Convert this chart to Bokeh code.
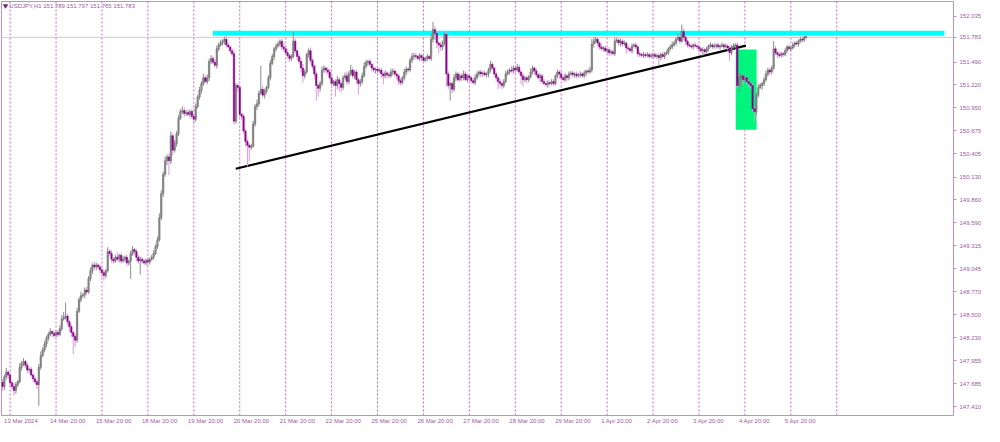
from bokeh.plotting import figure
from bokeh.models import Span, Label, FixedTicker, PrintfTickFormatter
from bokeh.embed import file_html
from bokeh.resources import INLINE

# ---------------- data (USDJPY H1 closes) ----------------
first_open = 147.700
c_13mar = [147.650, 147.765, 147.822, 147.787, 147.696, 147.650, 147.605, 147.673, 147.708, 147.879, 147.924, 147.947,
           147.902, 147.845, 147.856, 147.787, 147.742, 147.708, 147.673, 147.879, 148.016, 148.085, 148.153, 148.221]
c_14mar = [148.267, 148.302, 148.278, 148.256, 148.290, 148.267, 148.336, 148.450, 148.473, 148.484, 148.416, 148.359,
           148.290, 148.244, 148.199, 148.541, 148.678, 148.724, 148.735, 148.792, 148.769, 148.929, 149.021, 149.089]
c_15mar = [149.066, 149.089, 149.066, 149.032, 148.998, 148.964, 149.021, 149.249, 149.226, 149.158, 149.135, 149.181,
           149.158, 149.203, 149.135, 149.158, 149.181, 149.112, 149.135, 149.226, 149.272, 149.249, 149.181, 149.135]
c_18mar = [149.158, 149.135, 149.112, 149.146, 149.124, 149.158, 149.181, 149.226, 149.306, 149.386, 149.649, 149.934,
           150.163, 150.322, 150.368, 150.322, 150.619, 150.448, 150.528, 150.642, 150.825, 150.905, 150.916, 150.882]
c_19mar = [150.893, 150.871, 150.905, 150.848, 150.813, 150.962, 151.076, 151.156, 151.236, 151.304, 151.259, 151.304,
           151.499, 151.533, 151.487, 151.453, 151.647, 151.693, 151.716, 151.738, 151.761, 151.693, 151.670, 151.624]
c_20mar = [151.590, 150.791, 151.213, 151.190, 150.871, 150.848, 150.676, 150.551, 150.505, 150.482, 150.494, 150.756,
           150.962, 150.996, 151.122, 151.168, 151.099, 151.145, 151.190, 151.304, 151.476, 151.556, 151.647, 151.681]
c_21mar = [151.704, 151.738, 151.670, 151.647, 151.601, 151.567, 151.533, 151.556, 151.738, 151.624, 151.556, 151.499,
           151.419, 151.327, 151.373, 151.579, 151.624, 151.510, 151.442, 151.350, 151.213, 151.179, 151.236, 151.396]
c_22mar = [151.419, 151.396, 151.373, 151.304, 151.236, 151.259, 151.213, 151.282, 151.236, 151.190, 151.304, 151.327,
           151.259, 151.350, 151.396, 151.327, 151.373, 151.282, 151.236, 151.259, 151.327, 151.442, 151.487, 151.499]
c_25mar = [151.464, 151.419, 151.396, 151.407, 151.384, 151.396, 151.350, 151.327, 151.362, 151.339, 151.327, 151.373,
           151.384, 151.350, 151.327, 151.270, 151.247, 151.304, 151.373, 151.407, 151.396, 151.510, 151.556, 151.567]
c_26mar = [151.556, 151.533, 151.567, 151.544, 151.510, 151.533, 151.556, 151.533, 151.761, 151.875, 151.830, 151.716,
           151.693, 151.670, 151.716, 151.818, 151.350, 151.213, 151.236, 151.168, 151.304, 151.350, 151.282, 151.327]
c_27mar = [151.304, 151.350, 151.282, 151.327, 151.304, 151.270, 151.247, 151.304, 151.350, 151.373, 151.350, 151.362,
           151.339, 151.350, 151.396, 151.464, 151.419, 151.350, 151.304, 151.259, 151.236, 151.213, 151.259, 151.350]
c_28mar = [151.373, 151.396, 151.384, 151.419, 151.396, 151.430, 151.373, 151.327, 151.282, 151.304, 151.282, 151.316,
           151.373, 151.419, 151.384, 151.339, 151.304, 151.327, 151.259, 151.236, 151.225, 151.247, 151.236, 151.259]
c_29mar = [151.236, 151.327, 151.373, 151.350, 151.304, 151.282, 151.327, 151.304, 151.350, 151.362, 151.339, 151.350,
           151.327, 151.339, 151.350, 151.327, 151.362, 151.384, 151.373, 151.396, 151.704, 151.738, 151.761, 151.716]
c_01apr = [151.670, 151.647, 151.658, 151.624, 151.636, 151.601, 151.613, 151.590, 151.738, 151.750, 151.716, 151.738,
           151.704, 151.716, 151.658, 151.647, 151.624, 151.681, 151.693, 151.670, 151.590, 151.579, 151.567, 151.579]
c_02apr = [151.567, 151.579, 151.556, 151.567, 151.579, 151.556, 151.567, 151.544, 151.579, 151.556, 151.590, 151.601,
           151.647, 151.670, 151.693, 151.716, 151.761, 151.784, 151.738, 151.853, 151.784, 151.738, 151.693, 151.681]
c_03apr = [151.670, 151.693, 151.681, 151.670, 151.647, 151.624, 151.636, 151.613, 151.647, 151.681, 151.693, 151.670,
           151.681, 151.693, 151.670, 151.681, 151.693, 151.670, 151.681, 151.658, 151.601, 151.670, 151.681, 151.693]
c_04apr = [151.213, 151.304, 151.327, 151.282, 151.304, 151.259, 151.236, 151.213, 150.939, 150.905, 151.099, 151.190,
           151.213, 151.236, 151.282, 151.350, 151.396, 151.373, 151.419, 151.647, 151.601, 151.579, 151.567, 151.590]
c_05apr = [151.579, 151.624, 151.670, 151.647, 151.658, 151.693, 151.716, 151.704, 151.738, 151.761, 151.750, 151.789,
           151.783]

# upper / lower shadow lengths in pips (0.01 JPY)
up_wick = [4, 3, 5, 2, 3, 2, 4, 3, 2, 5, 3, 4, 2, 3, 2, 3, 2, 3, 2, 4, 5, 3, 4, 3,
           3, 4, 2, 3, 2, 3, 4, 5, 6, 16, 3, 2, 3, 2, 3, 4, 3, 5, 2, 3, 4, 3, 4, 2,
           4, 3, 2, 3, 2, 3, 2, 5, 3, 4, 2, 3, 6, 2, 3, 4, 2, 3, 2, 3, 4, 2, 3, 3,
           3, 2, 3, 2, 3, 2, 3, 4, 3, 4, 5, 4, 3, 5, 3, 4, 5, 3, 4, 3, 4, 3, 5, 4,
           3, 4, 2, 3, 2, 4, 3, 4, 3, 5, 3, 4, 3, 4, 3, 3, 4, 3, 4, 2, 3, 4, 3, 2,
           3, 4, 3, 2, 3, 2, 3, 2, 3, 2, 3, 4, 3, 5, 3, 28, 4, 3, 2, 3, 4, 3, 2, 3,
           3, 2, 3, 4, 2, 3, 2, 3, 11, 3, 2, 3, 4, 5, 3, 2, 3, 4, 3, 2, 3, 2, 3, 4,
           3, 2, 3, 4, 3, 2, 3, 4, 3, 2, 3, 4, 5, 3, 6, 3, 2, 3, 2, 3, 4, 5, 3, 2,
           3, 2, 3, 2, 3, 2, 3, 2, 3, 2, 3, 4, 3, 2, 3, 2, 3, 2, 4, 3, 2, 3, 4, 3,
           3, 2, 3, 2, 3, 2, 3, 2, 6, 9, 4, 3, 2, 4, 3, 3, 4, 3, 2, 3, 4, 3, 2, 3,
           3, 4, 3, 2, 3, 2, 3, 4, 3, 2, 3, 2, 3, 2, 3, 4, 3, 2, 3, 2, 3, 2, 3, 4,
           3, 2, 5, 3, 2, 4, 3, 2, 3, 2, 3, 2, 4, 3, 2, 3, 2, 3, 2, 3, 2, 3, 2, 3,
           3, 2, 3, 2, 3, 2, 3, 2, 3, 2, 3, 2, 3, 2, 3, 2, 3, 2, 3, 4, 6, 4, 3, 2,
           2, 3, 2, 3, 2, 3, 2, 3, 4, 3, 2, 3, 2, 3, 2, 3, 2, 3, 2, 3, 2, 3, 2, 3,
           2, 3, 2, 3, 2, 3, 2, 3, 2, 3, 2, 3, 2, 3, 4, 3, 2, 4, 3, 8, 4, 3, 2, 3,
           3, 2, 3, 2, 3, 2, 3, 2, 3, 2, 3, 2, 3, 2, 3, 2, 3, 2, 3, 2, 3, 2, 3, 2,
           3, 4, 3, 2, 3, 2, 3, 2, 3, 2, 3, 4, 3, 2, 3, 4, 3, 2, 3, 9, 3, 2, 3, 2,
           2, 3, 2, 3, 2, 3, 2, 3, 2, 3, 2, 1, 0.8]
lo_wick = [5, 4, 3, 5, 4, 3, 6, 4, 3, 2, 4, 3, 3, 4, 3, 2, 4, 3, 5, 25, 3, 2, 3, 4,
           3, 2, 4, 3, 2, 3, 2, 3, 2, 3, 4, 6, 5, 21, 8, 3, 2, 3, 2, 4, 3, 2, 3, 4,
           3, 4, 3, 4, 5, 6, 3, 2, 3, 4, 3, 2, 3, 4, 3, 2, 3, 4, 3, 21, 3, 4, 5, 3,
           16, 3, 2, 3, 4, 3, 2, 3, 2, 3, 2, 3, 4, 3, 5, 17, 4, 6, 3, 4, 3, 2, 3, 4,
           3, 2, 4, 3, 6, 3, 2, 3, 4, 3, 2, 3, 4, 3, 2, 3, 4, 3, 2, 3, 4, 3, 2, 3,
           3, 4, 3, 5, 3, 4, 3, 6, 25, 17, 3, 2, 3, 4, 3, 2, 3, 4, 3, 2, 3, 2, 4, 3,
           2, 3, 4, 3, 2, 3, 4, 3, 2, 3, 4, 3, 5, 8, 3, 2, 4, 3, 4, 6, 18, 10, 4, 3,
           3, 4, 3, 2, 5, 3, 13, 4, 9, 6, 3, 2, 4, 3, 2, 3, 4, 5, 13, 4, 3, 2, 3, 4,
           3, 4, 3, 4, 3, 2, 5, 10, 3, 4, 3, 2, 4, 3, 4, 5, 3, 2, 3, 4, 3, 2, 3, 4,
           3, 2, 3, 4, 3, 2, 3, 2, 3, 4, 8, 6, 10, 5, 4, 3, 15, 4, 18, 5, 3, 4, 3, 2,
           4, 3, 2, 3, 4, 3, 2, 3, 2, 3, 4, 3, 2, 3, 4, 3, 2, 3, 4, 9, 5, 4, 3, 2,
           2, 3, 2, 3, 4, 2, 3, 10, 8, 3, 4, 3, 2, 3, 4, 3, 2, 5, 3, 2, 3, 4, 3, 2,
           3, 2, 3, 6, 3, 2, 3, 4, 3, 2, 3, 4, 3, 2, 3, 2, 3, 4, 3, 2, 3, 4, 3, 4,
           3, 2, 3, 2, 3, 4, 3, 2, 3, 2, 3, 4, 3, 2, 7, 3, 2, 3, 2, 3, 4, 3, 2, 3,
           3, 2, 3, 2, 3, 2, 3, 9, 3, 2, 3, 2, 3, 2, 3, 2, 3, 2, 3, 2, 3, 4, 3, 2,
           2, 3, 2, 3, 4, 3, 6, 3, 2, 3, 2, 3, 2, 3, 2, 3, 2, 3, 2, 3, 10, 3, 2, 3,
           3, 8, 10, 6, 4, 3, 5, 4, 3, 12, 4, 3, 2, 5, 3, 2, 3, 4, 3, 2, 3, 4, 3, 2,
           3, 2, 3, 2, 3, 2, 3, 2, 3, 2, 3, 2, 1.8]

# x-axis labels (every 24 bars) and right-axis price labels
x_labels = ["13 Mar 2024", "14 Mar 20:00", "15 Mar 20:00", "18 Mar 20:00", "19 Mar 20:00", "20 Mar 20:00",
            "21 Mar 20:00", "22 Mar 20:00", "25 Mar 20:00", "26 Mar 20:00", "27 Mar 20:00", "28 Mar 20:00",
            "29 Mar 20:00", "1 Apr 20:00", "2 Apr 20:00", "3 Apr 20:00", "4 Apr 20:00", "5 Apr 20:00"]
y_ticks = [152.035, 151.490, 151.220, 150.950, 150.675, 150.405, 150.130, 149.860, 149.590,
           149.315, 149.045, 148.770, 148.500, 148.230, 147.955, 147.685, 147.410]
last_price = 151.783
title_text = "USDJPY,H1  151.789 151.797 151.765 151.783"

# drawn objects
resistance_x = [110.0, 492.3]
resistance_y = [151.830, 151.830]
trend_x = [121.9, 388.5]
trend_y = [150.228, 151.685]
box_x = [383.2, 394.1]
box_y = [150.688, 151.639]

# ---------------- build ----------------
closes = (c_13mar + c_14mar + c_15mar + c_18mar + c_19mar + c_20mar + c_21mar + c_22mar + c_25mar + c_26mar
          + c_27mar + c_28mar + c_29mar + c_01apr + c_02apr + c_03apr + c_04apr + c_05apr)
n = min(len(closes), len(up_wick), len(lo_wick))
closes = closes[:n]
opens = [first_open] + closes[:-1]
idx = list(range(n))
highs = [max(o, c) + u * 0.01 for o, c, u in zip(opens, closes, up_wick)]
lows = [min(o, c) - l * 0.01 for o, c, l in zip(opens, closes, lo_wick)]

X0, X1 = -0.5, 497.0
Y0, Y1 = 147.308, 152.207
FG = "#a05aa0"
FRAME = "#c88cc8"
SEP = "#c864c8"
FONT = "Liberation Sans"
FS = 6.0

p = figure(width=984, height=426, x_range=(X0, X1), y_range=(Y0, Y1), y_axis_location="right",
           toolbar_location=None, output_backend="svg", min_border_left=1, min_border_top=1,
           min_border_bottom=4, min_border_right=0)
p.background_fill_color = "white"
p.border_fill_color = "white"
p.outline_line_color = FRAME
p.outline_line_width = 1
p.grid.visible = False

# y axis (price scale on the right, incl. the current bid)
p.yaxis.ticker = FixedTicker(ticks=y_ticks + [last_price])
p.yaxis.formatter = PrintfTickFormatter(format="%.3f")
p.yaxis.minor_tick_line_color = None
p.yaxis.major_tick_out = 3
p.yaxis.major_tick_in = 0
p.yaxis.major_label_standoff = 3
p.yaxis.major_label_text_font = FONT
p.yaxis.major_label_text_font_size = f"{FS}px"
p.yaxis.major_label_text_color = FG
p.yaxis.axis_line_color = FRAME
p.yaxis.major_tick_line_color = FRAME

# x axis: MT4 writes the time labels starting at the bar, so place each label's centre
# half a label width to the right of its bar
cw = {" ": 0.278, "M": 0.833, "A": 0.667, "a": 0.556, "r": 0.333, "p": 0.556, ":": 0.278}
px_per_bar = 944.0 / (X1 - X0)
x_ticks, x_over = [], {}
for k, t in enumerate(x_labels):
    w = sum(cw.get(ch, 0.556) for ch in t) * FS
    pos = round(24 * k + (w / 2 + 1.5) / px_per_bar, 3)
    x_ticks.append(pos)
    x_over[pos] = t
p.xaxis.ticker = FixedTicker(ticks=x_ticks)
p.xaxis.major_label_overrides = x_over
p.xaxis.minor_tick_line_color = None
p.xaxis.major_tick_out = 0
p.xaxis.major_tick_in = 0
p.xaxis.major_label_standoff = 2
p.xaxis.major_label_text_font = FONT
p.xaxis.major_label_text_font_size = f"{FS}px"
p.xaxis.major_label_text_color = FG
p.xaxis.axis_line_color = FRAME

# day separators
for k in range(19):
    p.add_layout(Span(location=4 + 24 * k, dimension="height", line_color=SEP, line_dash="2 2",
                      line_width=1, level="underlay"))
# bid line
p.add_layout(Span(location=last_price, dimension="width", line_color="#c8c8c8", line_width=1, level="underlay"))

# objects behind candles
p.quad(left=[box_x[0]], right=[box_x[1]], bottom=[box_y[0]], top=[box_y[1]],
       fill_color="#00F57F", line_color=None)
p.line(resistance_x, resistance_y, line_color="#00FFFF", line_width=5, line_cap="butt")
p.line(trend_x, trend_y, line_color="black", line_width=2.2)

# candles
bx = [i for i in idx if closes[i] >= opens[i]]
sx = [i for i in idx if closes[i] < opens[i]]
p.segment(x0=bx, x1=bx, y0=[lows[i] for i in bx], y1=[highs[i] for i in bx], line_color="#8c8c8c", line_width=1)
p.segment(x0=sx, x1=sx, y0=[lows[i] for i in sx], y1=[highs[i] for i in sx], line_color="#d89cd8", line_width=1)
p.vbar(x=bx, width=0.75, bottom=[opens[i] for i in bx], top=[closes[i] for i in bx],
       fill_color="#8e8e8e", line_color="#666666", line_width=0.5)
p.vbar(x=sx, width=0.75, bottom=[closes[i] for i in sx], top=[opens[i] for i in sx],
       fill_color="#8b008b", line_color="#8b008b", line_width=0.5)

# title
p.scatter([1.6], [152.155], marker="inverted_triangle", size=4, color="#7a2a7a")
p.add_layout(Label(x=3.6, y=152.150, text=title_text, text_font=FONT, text_font_size=f"{FS}px",
                   text_color=FG, text_align="left", text_baseline="middle"))

# current-price tag over the price scale (HTML label, not clipped to the frame)
try:
    from bokeh.models import HTMLLabel
    tag = HTMLLabel(x=X1, y=last_price, text="151.783", x_offset=1,
                    text_font=FONT, text_font_size=f"{FS}px", text_color="white",
                    text_align="left", text_baseline="middle",
                    background_fill_color="#800080")
    p.add_layout(tag)
except Exception:
    pass

open("out.html", "w").write(file_html(p, INLINE))
